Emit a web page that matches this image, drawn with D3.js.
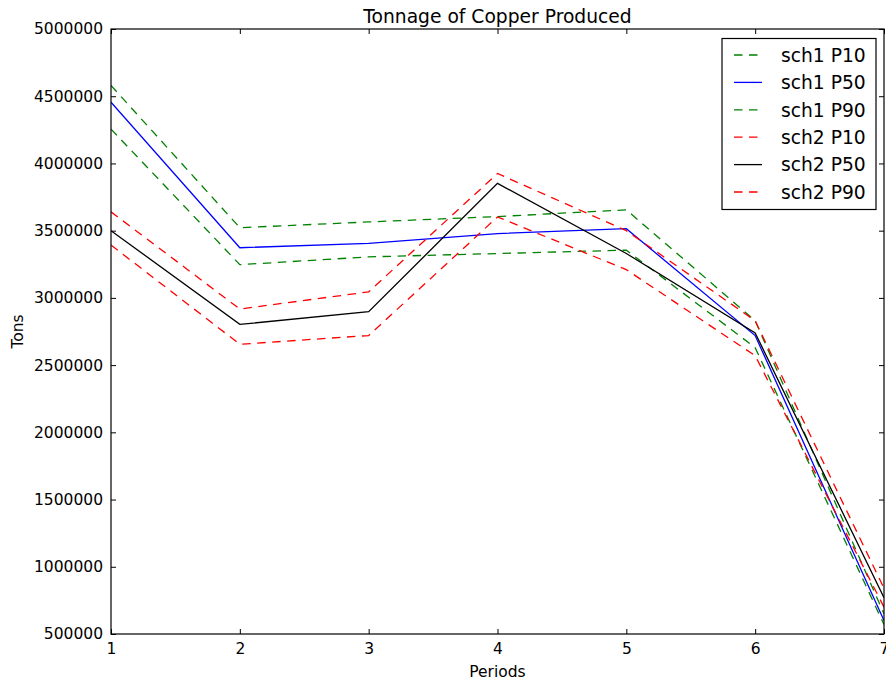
<!DOCTYPE html>
<html>
<head>
<meta charset="utf-8">
<script src="https://cdn.jsdelivr.net/npm/d3@7"></script>
<style>
  html, body { margin: 0; padding: 0; background: #fff; }
  svg { display: block; font-family: "DejaVu Sans", sans-serif; }
</style>
</head>
<body>
<svg id="chart" width="886" height="683"></svg>
<script>
// Copper tonnage per period for two schedules (P10 / P50 / P90 cases)
const periods = [1, 2, 3, 4, 5, 6, 7];
const sch1P10 = [4580000, 3522000, 3565000, 3605000, 3655000, 2830000, 650000];
const sch1P50 = [4455000, 3373000, 3405000, 3478000, 3515000, 2720000, 600000];
const sch1P90 = [4255000, 3247000, 3305000, 3330000, 3355000, 2630000, 570000];
const sch2P10 = [3640000, 2917000, 3045000, 3925000, 3500000, 2830000, 840000];
const sch2P50 = [3500000, 2803000, 2897000, 3852000, 3330000, 2740000, 770000];
const sch2P90 = [3393000, 2655000, 2720000, 3602000, 3210000, 2570000, 700000];

const seriesNames = ["sch1 P10", "sch1 P50", "sch1 P90", "sch2 P10", "sch2 P50", "sch2 P90"];
const seriesValues = [sch1P10, sch1P50, sch1P90, sch2P10, sch2P50, sch2P90];
const seriesColors = ["#008000", "#0000ff", "#008000", "#ff0000", "#000000", "#ff0000"];
const seriesDashed = [true, false, true, true, false, true];

const yTicks = [500000, 1000000, 1500000, 2000000, 2500000, 3000000, 3500000, 4000000, 4500000, 5000000];

const chartTitle = "Tonnage of Copper Produced";
const xLabel = "Periods";
const yLabel = "Tons";

const svg = d3.select("#chart");
const plotL = 111, plotR = 884, plotT = 29, plotB = 634;

const x = d3.scaleLinear().domain([1, 7]).range([plotL, plotR]);
const y = d3.scaleLinear().domain([500000, 5000000]).range([plotB, plotT]);

const tickFont = "15.5px";
const bigFont = "18.7px";
const dash = "8.5,6.5";

// series lines, clipped to the plot area
svg.append("defs").append("clipPath").attr("id", "plotClip")
  .append("rect").attr("x", plotL).attr("y", plotT)
  .attr("width", plotR - plotL).attr("height", plotB - plotT);

const line = d3.line().x((d, i) => x(periods[i])).y(d => y(d));
const plot = svg.append("g").attr("clip-path", "url(#plotClip)");
seriesValues.forEach((vals, k) => {
  plot.append("path")
    .attr("d", line(vals))
    .attr("fill", "none")
    .attr("stroke", seriesColors[k])
    .attr("stroke-width", 1.3)
    .attr("stroke-dasharray", seriesDashed[k] ? dash : null);
});

// axes with inward ticks on all four sides
const tickLen = 5;
const axisBottom = d3.axisBottom(x).tickValues(periods).tickFormat(d3.format("d"))
  .tickSizeInner(-tickLen).tickSizeOuter(0).tickPadding(9);
const axisTop = d3.axisTop(x).tickValues(periods).tickFormat("")
  .tickSizeInner(-tickLen).tickSizeOuter(0);
const axisLeft = d3.axisLeft(y).tickValues(yTicks).tickFormat(d3.format("d"))
  .tickSizeInner(-tickLen).tickSizeOuter(0).tickPadding(8);
const axisRight = d3.axisRight(y).tickValues(yTicks).tickFormat("")
  .tickSizeInner(-tickLen).tickSizeOuter(0);

function styleAxis(g) {
  g.select(".domain").remove();
  g.selectAll(".tick line").attr("stroke", "#000").attr("stroke-width", 1);
  g.selectAll(".tick text").attr("fill", "#000")
    .style("font-size", tickFont).style("font-family", "DejaVu Sans, sans-serif");
}

svg.append("g").attr("transform", `translate(0,${plotB})`).call(axisBottom).call(styleAxis);
svg.append("g").attr("transform", `translate(0,${plotT})`).call(axisTop).call(styleAxis);
svg.append("g").attr("transform", `translate(${plotL},0)`).call(axisLeft).call(styleAxis);
svg.append("g").attr("transform", `translate(${plotR},0)`).call(axisRight).call(styleAxis);

// frame
svg.append("rect")
  .attr("x", plotL).attr("y", plotT)
  .attr("width", plotR - plotL).attr("height", plotB - plotT)
  .attr("fill", "none").attr("stroke", "#000").attr("stroke-width", 1.2);

// title and axis labels
svg.append("text").attr("x", (plotL + plotR) / 2).attr("y", 23)
  .attr("text-anchor", "middle").style("font-size", bigFont).attr("fill", "#000")
  .text(chartTitle);
svg.append("text").attr("x", (plotL + plotR) / 2).attr("y", 677)
  .attr("text-anchor", "middle").style("font-size", tickFont).attr("fill", "#000")
  .text(xLabel);
svg.append("text").attr("transform", `translate(23,${(plotT + plotB) / 2}) rotate(-90)`)
  .attr("text-anchor", "middle").style("font-size", tickFont).attr("fill", "#000")
  .text(yLabel);

// legend
const lg = svg.append("g");
const lgX = 722, lgY = 38.5, lgW = 154, lgH = 171, rowH = 27.4, firstRow = 55;
lg.append("rect").attr("x", lgX).attr("y", lgY).attr("width", lgW).attr("height", lgH)
  .attr("fill", "#fff").attr("stroke", "#000").attr("stroke-width", 1.2);
seriesNames.forEach((name, k) => {
  const cy = firstRow + k * rowH;
  lg.append("line").attr("x1", 734).attr("x2", 762).attr("y1", cy).attr("y2", cy)
    .attr("stroke", seriesColors[k]).attr("stroke-width", 1.3)
    .attr("stroke-dasharray", seriesDashed[k] ? dash : null);
  lg.append("text").attr("x", 781).attr("y", cy).attr("dy", "0.36em")
    .style("font-size", bigFont).attr("fill", "#000").text(name);
});
</script>
</body>
</html>
